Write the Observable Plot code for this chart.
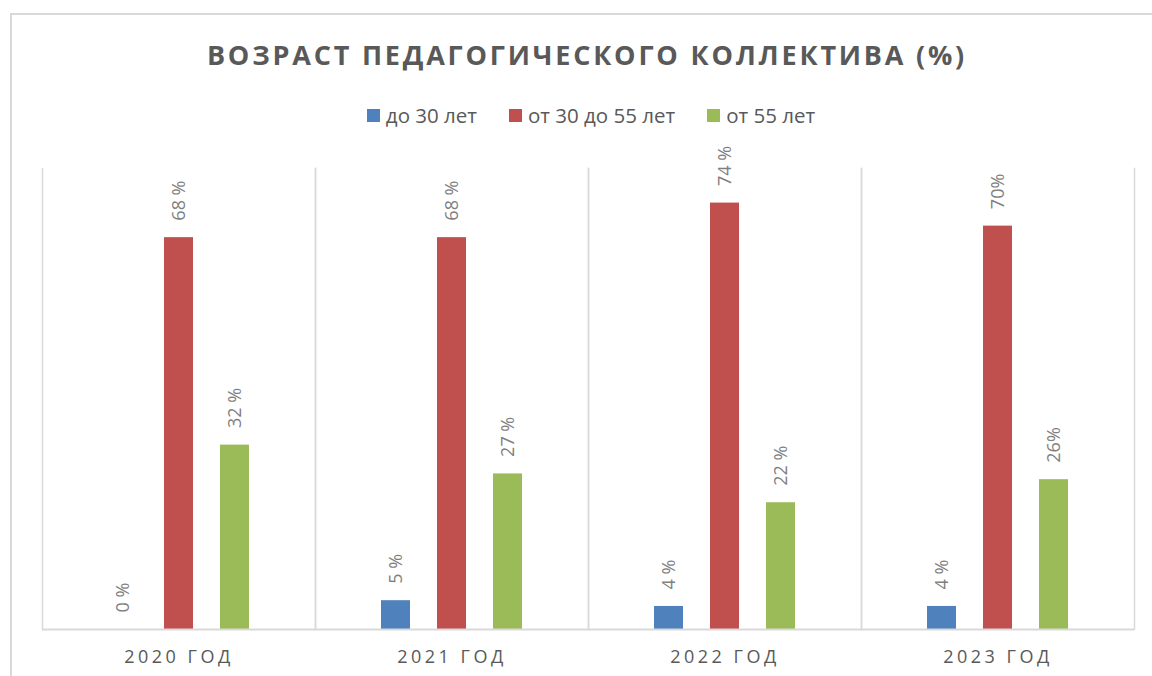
<!DOCTYPE html>
<html>
<head>
<meta charset="utf-8">
<script src="https://cdn.jsdelivr.net/npm/d3@7"></script>
<script src="https://cdn.jsdelivr.net/npm/@observablehq/plot@0.6"></script>
<style>
  html, body { margin: 0; padding: 0; background: #fff; }
  #wrap { position: relative; width: 1152px; height: 676px; overflow: hidden; font-family: "Open Sans", sans-serif; }
  #border { position: absolute; left: 10px; top: 13px; width: 1300px; height: 800px; border-left: 2px solid #d9d9d9; border-top: 2px solid #d9d9d9; box-sizing: border-box; }
  #title { position: absolute; left: 0; top: 41px; width: 1152px; box-sizing: border-box; padding-left: 22px; text-align: center; font-size: 27px; line-height: 27px; font-weight: 700; letter-spacing: 2.8px; color: #595959; }
  #legend { position: absolute; left: 0; top: 105px; width: 1152px; box-sizing: border-box; padding-left: 30px; display: flex; justify-content: center; align-items: center; font-size: 20.5px; line-height: 20px; color: #595959; }
  .item { display: flex; align-items: center; margin: 0 16px; }
  .sw { width: 13px; height: 13px; margin-right: 6px; }
  #chart { position: absolute; left: 0; top: 140px; }
  #chart g[aria-label="fx-axis tick label"] text { letter-spacing: 3.5px; }
</style>
</head>
<body>
<div id="wrap">
  <div id="border"></div>
  <div id="title"></div>
  <div id="legend"></div>
  <div id="chart"></div>
</div>
<script>
const titleText = "ВОЗРАСТ ПЕДАГОГИЧЕСКОГО КОЛЛЕКТИВА (%)";
const years = ["2020", "2021", "2022", "2023"];
const yearLabels = ["2020 ГОД", "2021 ГОД", "2022 ГОД", "2023 ГОД"];
const series = ["до 30 лет", "от 30 до 55 лет", "от 55 лет"];
const colors = ["#4f81bd", "#c0504d", "#9bbb59"];
const under30 = [0, 5, 4, 4];
const from30to55 = [68, 68, 74, 70];
const over55 = [32, 27, 22, 26];
const under30Labels = ["0 %", "5 %", "4 %", "4 %"];
const from30to55Labels = ["68 %", "68 %", "74 %", "70%"];
const over55Labels = ["32 %", "27 %", "22 %", "26%"];

const seriesValues = [under30, from30to55, over55];
const seriesLabels = [under30Labels, from30to55Labels, over55Labels];
const data = [];
years.forEach((year, i) => {
  series.forEach((s, j) => {
    data.push({year, series: s, value: seriesValues[j][i], label: seriesLabels[j][i]});
  });
});

document.getElementById("title").textContent = titleText;
const legend = document.getElementById("legend");
series.forEach((s, j) => {
  const item = document.createElement("div");
  item.className = "item";
  const sw = document.createElement("span");
  sw.className = "sw";
  sw.style.background = colors[j];
  const t = document.createElement("span");
  t.textContent = s;
  item.appendChild(sw);
  item.appendChild(t);
  legend.appendChild(item);
});

const grid = "#d9d9d9";
const chart = Plot.plot({
  width: 1152,
  height: 536,
  marginTop: 28,
  marginBottom: 47,
  marginLeft: 41,
  marginRight: 17,
  style: {fontFamily: "Open Sans, sans-serif", background: "transparent"},
  fx: {domain: years, padding: 0, label: null},
  x: {domain: series, paddingInner: 0.491, paddingOuter: 1.145, axis: null},
  y: {domain: [0, 80], axis: null},
  color: {domain: series, range: colors},
  marks: [
    Plot.frame({anchor: "left", stroke: grid, strokeWidth: 1.5}),
    Plot.frame({anchor: "right", stroke: grid, strokeWidth: 1.5}),
    Plot.barY(data, {fx: "year", x: "series", y: "value", fill: "series"}),
    Plot.ruleY([0], {stroke: grid, strokeWidth: 2}),
    Plot.text(data, {fx: "year", x: "series", y: "value", text: "label", rotate: -90,
      textAnchor: "start", lineAnchor: "middle", dy: -17, fill: "#7f7f7f", fontSize: 18}),
    Plot.axisFx({anchor: "bottom", tickSize: 0, tickPadding: 21, fontSize: 18, fill: "#595959",
      label: null, tickFormat: d => yearLabels[years.indexOf(d)]})
  ]
});
document.getElementById("chart").appendChild(chart);
</script>
</body>
</html>
